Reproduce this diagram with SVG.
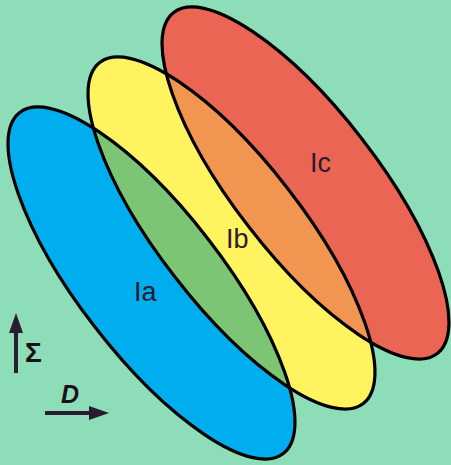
<svg xmlns="http://www.w3.org/2000/svg" xmlns:xlink="http://www.w3.org/1999/xlink" width="451" height="465" viewBox="0 0 451 465">
<style>
.o{fill:none;stroke:#000;stroke-width:3.2}
.lbl{font-family:"Liberation Sans",Arial,sans-serif;font-size:27px;fill:#2a1b2e}
.ax{stroke:#2a1b2e;stroke-width:4;fill:none}
.sym{font-family:"Liberation Sans",Arial,sans-serif;font-weight:bold;fill:#1a1018}
</style>
<defs>
<ellipse id="E" cx="0" cy="0" rx="215.5" ry="71.7" transform="rotate(52.3)"/>
<clipPath id="cA"><use xlink:href="#E" href="#E" x="151.5" y="283"/></clipPath>
<clipPath id="cB"><use xlink:href="#E" href="#E" x="231.5" y="233"/></clipPath>
<marker id="ah" viewBox="0 0 20 14" markerWidth="20" markerHeight="14" refX="3" refY="7" orient="auto" markerUnits="userSpaceOnUse">
<path d="M0,0 L20,7 L0,14 z" fill="#2a1b2e"/>
</marker>
</defs>
<rect width="451" height="465" fill="#8EDDB9"/>
<g id="Ia">
<use xlink:href="#E" href="#E" x="151.5" y="283" fill="#00AEEF"/>
<text class="lbl" x="134" y="301">Ia</text>
</g>
<g id="Ib">
<use xlink:href="#E" href="#E" x="231.5" y="233" fill="#FFF35F"/>
<text class="lbl" x="226" y="248">Ib</text>
</g>
<g id="Ic">
<use xlink:href="#E" href="#E" x="305.5" y="183" fill="#EA6553"/>
<text class="lbl" x="310" y="172">Ic</text>
</g>
<g id="overlaps">
<g clip-path="url(#cA)"><use xlink:href="#E" href="#E" x="231.5" y="233" fill="#7CC574"/></g>
<g clip-path="url(#cB)"><use xlink:href="#E" href="#E" x="305.5" y="183" fill="#F29551"/></g>
</g>
<g id="outlines">
<use xlink:href="#E" href="#E" x="151.5" y="283" class="o"/>
<use xlink:href="#E" href="#E" x="231.5" y="233" class="o"/>
<use xlink:href="#E" href="#E" x="305.5" y="183" class="o"/>
</g>
<g id="axes">
<line class="ax" x1="16" y1="373" x2="16" y2="330" marker-end="url(#ah)"/>
<line class="ax" x1="45" y1="413" x2="92" y2="413" marker-end="url(#ah)"/>
<text class="sym" x="25" y="362" font-size="28">Σ</text>
<text class="sym" x="61" y="403" font-size="25" font-style="italic">D</text>
</g>
</svg>
